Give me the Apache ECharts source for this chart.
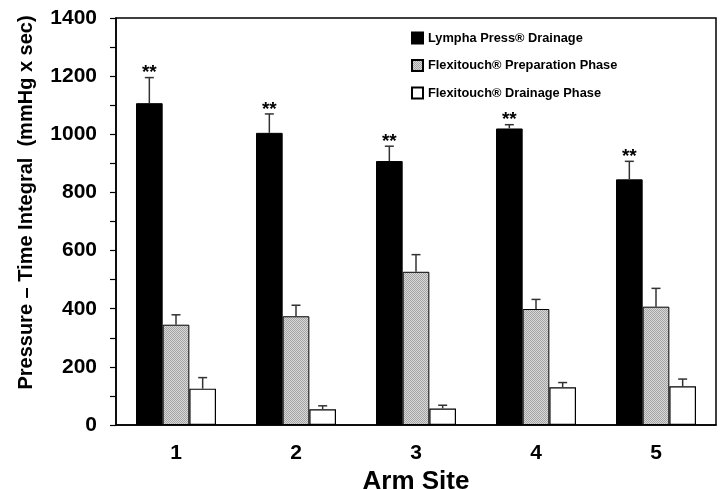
<!DOCTYPE html>
<html>
<head>
<meta charset="utf-8">
<script src="https://cdn.jsdelivr.net/npm/echarts@6/dist/echarts.min.js"></script>
<style>html,body{margin:0;padding:0;background:#fff;}#c{width:720px;height:489px;}</style>
</head>
<body>
<div id="c"></div>
<script>
const categories = ['1', '2', '3', '4', '5'];
const seriesNames = ['Lympha Press® Drainage', 'Flexitouch® Preparation Phase', 'Flexitouch® Drainage Phase'];
const lymphaPress = [1107, 1005, 908, 1020, 845];
const lymphaPressErrTop = [1195, 1070, 959, 1033, 907];
const flexPrep = [345, 374, 527, 399, 407];
const flexPrepErrTop = [379, 412, 586, 432, 470];
const flexDrain = [125, 54, 57, 130, 133];
const flexDrainErrTop = [163, 66, 68, 146, 158];
const significance = ['**', '**', '**', '**', '**'];
const yTicks = [0, 200, 400, 600, 800, 1000, 1200, 1400];

const FONT = '"Liberation Sans", Arial, sans-serif';

// gray dotted pattern
const pc = document.createElement('canvas');
pc.width = 2; pc.height = 2;
const px = pc.getContext('2d');
px.fillStyle = '#d8d8d8'; px.fillRect(0, 0, 2, 2);
px.fillStyle = '#a4a4a4'; px.fillRect(0, 0, 1, 1); px.fillRect(1, 1, 1, 1);
const grayPattern = { image: pc, repeat: 'repeat' };

const BAR_FRAC = 0.2222;

function errSeries(idx, vals, tops, stars) {
  return {
    type: 'custom',
    name: 'err' + idx,
    z: 5,
    data: vals.map((v, i) => [i, v, tops[i], stars ? stars[i] : '']),
    encode: { x: 0, y: [1, 2] },
    renderItem: function (params, api) {
      const band = api.size([1, 0])[0];
      const off = band * BAR_FRAC * (idx - 1);
      const b = api.coord([api.value(0), api.value(1)]);
      const t = api.coord([api.value(0), api.value(2)]);
      const x = b[0] + off;
      const children = [
        { type: 'line', shape: { x1: x, y1: b[1], x2: x, y2: t[1] }, style: { stroke: '#333', lineWidth: 1.5 } },
        { type: 'line', shape: { x1: x - 4.5, y1: t[1], x2: x + 4.5, y2: t[1] }, style: { stroke: '#333', lineWidth: 1.5 } }
      ];
      const s = api.value(3);
      if (s) {
        children.push({ type: 'text', x: x, y: t[1] + 5, style: { text: s, fill: '#000', font: 'bold 19px ' + FONT, align: 'center', verticalAlign: 'bottom' } });
      }
      return { type: 'group', children: children };
    }
  };
}

const chart = echarts.init(document.getElementById('c'), null, { renderer: 'canvas' });
chart.setOption({
  animation: false,
  backgroundColor: '#fff',
  textStyle: { fontFamily: FONT },
  grid: { left: 116, right: 4, top: 18, bottom: 64, containLabel: false, outerBoundsMode: 'none',
    show: true, borderColor: '#000', borderWidth: 1.5, backgroundColor: 'transparent' },
  legend: {
    data: seriesNames,
    orient: 'vertical',
    left: 411,
    top: 31,
    padding: 0,
    itemWidth: 11,
    itemHeight: 11,
    itemGap: 13.5,
    icon: 'rect',
    textStyle: { fontFamily: FONT, fontWeight: 'bold', fontSize: 12.8, color: '#000', lineHeight: 14 }
  },
  xAxis: {
    type: 'category',
    data: categories,
    axisLine: { lineStyle: { color: '#000', width: 1.5 } },
    axisTick: { show: false },
    axisLabel: { fontFamily: FONT, fontWeight: 'bold', fontSize: 21, color: '#000', margin: 18 },
    name: 'Arm Site',
    nameLocation: 'middle',
    nameGap: 37,
    nameTextStyle: { fontFamily: FONT, fontWeight: 'bold', fontSize: 26, color: '#000' }
  },
  yAxis: {
    type: 'value',
    min: yTicks[0],
    max: yTicks[yTicks.length - 1],
    interval: 200,
    axisLine: { show: true, lineStyle: { color: '#000', width: 1.5 } },
    axisTick: { show: true, inside: false, length: 6, lineStyle: { color: '#000', width: 1.2 } },
    minorTick: { show: true, splitNumber: 2, length: 6, lineStyle: { color: '#000', width: 1.2 } },
    splitLine: { show: false },
    axisLabel: { fontFamily: FONT, fontWeight: 'bold', fontSize: 21, color: '#000', margin: 19, formatter: v => String(v) },
    name: 'Pressure – Time Integral  (mmHg x sec)',
    nameLocation: 'middle',
    nameGap: 80,
    nameTextStyle: { fontFamily: FONT, fontWeight: 'bold', fontSize: 20, color: '#000', padding: [0, 0, 0, 38] }
  },
  series: [
    { type: 'bar', name: seriesNames[0], data: lymphaPress, barWidth: (BAR_FRAC * 100) + '%', barGap: '0%',
      itemStyle: { color: '#000', borderColor: '#000', borderWidth: 1 } },
    { type: 'bar', name: seriesNames[1], data: flexPrep, barWidth: (BAR_FRAC * 100) + '%', barGap: '0%',
      itemStyle: { color: grayPattern, borderColor: '#000', borderWidth: 1 } },
    { type: 'bar', name: seriesNames[2], data: flexDrain, barWidth: (BAR_FRAC * 100) + '%', barGap: '0%',
      itemStyle: { color: '#fff', borderColor: '#000', borderWidth: 1.2 } },
    errSeries(0, lymphaPress, lymphaPressErrTop, significance),
    errSeries(1, flexPrep, flexPrepErrTop, null),
    errSeries(2, flexDrain, flexDrainErrTop, null)
  ]
});
</script>
</body>
</html>
